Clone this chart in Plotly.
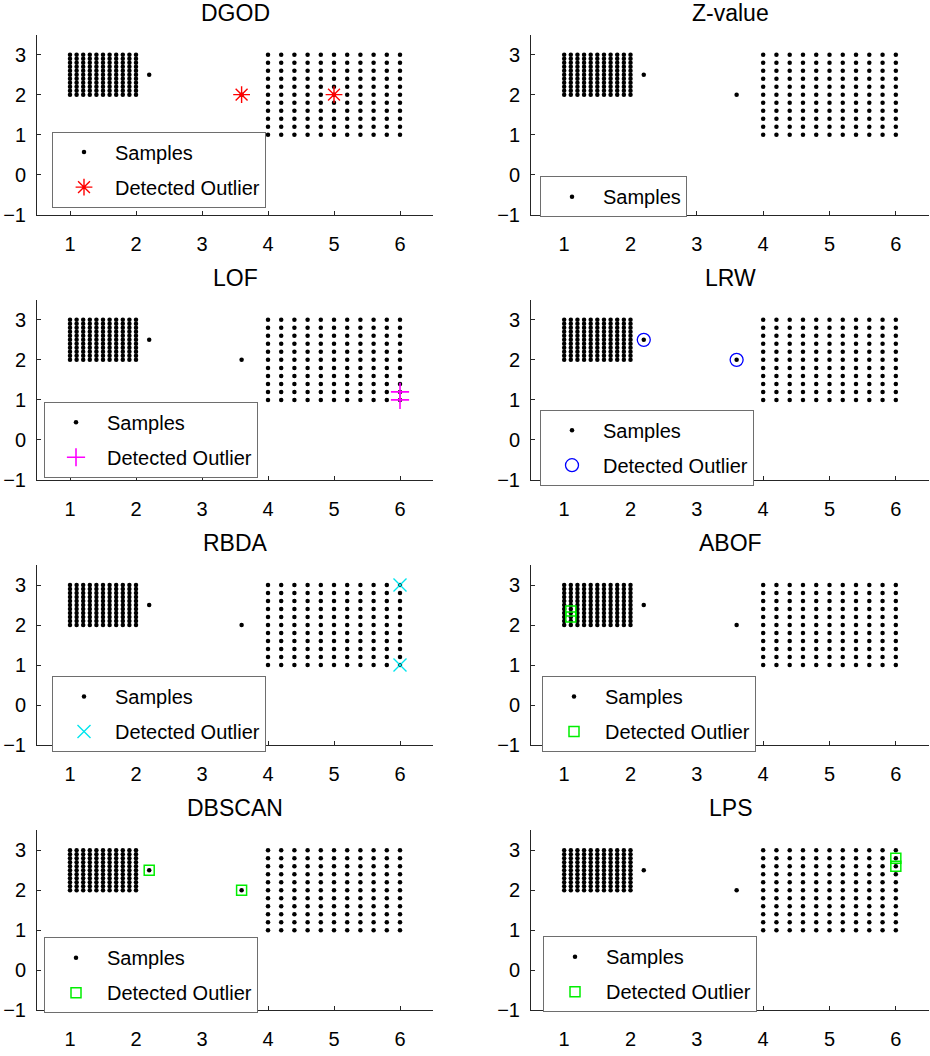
import plotly.graph_objects as go

# ---------------- data ----------------
left_cols = [1.0, 1.1, 1.2, 1.3, 1.4, 1.5, 1.6, 1.7, 1.8, 1.9, 2.0]
left_rows = [2.0, 2.1, 2.2, 2.3, 2.4, 2.5, 2.6, 2.7, 2.8, 2.9, 3.0]
right_cols = [4.0, 4.2, 4.4, 4.6, 4.8, 5.0, 5.2, 5.4, 5.6, 5.8, 6.0]
right_rows = [1.0, 1.2, 1.4, 1.6, 1.8, 2.0, 2.2, 2.4, 2.6, 2.8, 3.0]
extra_x = [2.2, 3.6]
extra_y = [2.5, 2.0]

methods = ["DGOD", "Z-value", "LOF", "LRW", "RBDA", "ABOF", "DBSCAN", "LPS"]
out_x = {
    "DGOD": [3.6, 5.0], "Z-value": [], "LOF": [6.0, 6.0], "LRW": [2.2, 3.6],
    "RBDA": [6.0, 6.0], "ABOF": [1.1, 1.1], "DBSCAN": [2.2, 3.6], "LPS": [6.0, 6.0],
}
out_y = {
    "DGOD": [2.0, 2.0], "Z-value": [], "LOF": [1.2, 1.0], "LRW": [2.5, 2.0],
    "RBDA": [3.0, 1.0], "ABOF": [2.35, 2.2], "DBSCAN": [2.5, 2.0], "LPS": [2.8, 2.6],
}
x_ticks = [1, 2, 3, 4, 5, 6]
y_ticks = [-1, 0, 1, 2, 3]

# ---------------- styles ----------------
styles = {
    "DGOD": dict(symbol="asterisk-open", color="#ff0000", size=14, w=1.4),
    "LOF": dict(symbol="cross-thin-open", color="#ff00ff", size=13, w=1.6),
    "LRW": dict(symbol="circle-open", color="#0000ff", size=13, w=1.3),
    "RBDA": dict(symbol="x-thin-open", color="#00e5ee", size=13, w=1.4),
    "ABOF": dict(symbol="square-open", color="#00ee00", size=10, w=1.5),
    "DBSCAN": dict(symbol="square-open", color="#00ee00", size=10, w=1.5),
    "LPS": dict(symbol="square-open", color="#00ee00", size=10, w=1.5),
}

sx, sy = [], []
for c in left_cols:
    for r in left_rows:
        sx.append(c); sy.append(r)
for c in right_cols:
    for r in right_rows:
        sx.append(c); sy.append(r)
sx += extra_x
sy += extra_y

W, H = 930, 1056
col_px = [(37, 433), (531, 929)]
row_top = [35, 303, 571, 839]
PLOT_H = 182
legend_pos = {  # left px, top px
    "DGOD": (52, 133), "Z-value": (540, 178), "LOF": (44, 406), "LRW": (540, 414),
    "RBDA": (52, 683), "ABOF": (542, 683), "DBSCAN": (44, 947), "LPS": (543, 946),
}

FONT = "Liberation Sans, Arial, sans-serif"
fig = go.Figure()
layout = dict(
    width=W, height=H, margin=dict(l=0, r=0, t=0, b=0),
    paper_bgcolor="white", plot_bgcolor="white",
    font=dict(family=FONT, size=20, color="black"),
    annotations=[],
)

for i, m in enumerate(methods):
    n = i + 1
    r, c = divmod(i, 2)
    x0, x1 = col_px[c]
    top = row_top[r]
    bot = top + PLOT_H
    xa = "xaxis" if n == 1 else f"xaxis{n}"
    ya = "yaxis" if n == 1 else f"yaxis{n}"
    xr = "x" if n == 1 else f"x{n}"
    yr = "y" if n == 1 else f"y{n}"
    lg = "legend" if n == 1 else f"legend{n}"
    axstyle = dict(showgrid=False, zeroline=False, showline=True, linecolor="#262626",
                   linewidth=1, ticks="inside", ticklen=4, tickcolor="#262626",
                   tickfont=dict(size=20, color="black", family=FONT), mirror=False)
    layout[xa] = dict(domain=[x0 / W, x1 / W], range=[0.5, 6.5], tickvals=x_ticks,
                      anchor=yr, ticklabelstandoff=11, **axstyle)
    layout[ya] = dict(domain=[1 - bot / H, 1 - top / H], range=[-1, 3.5], tickvals=y_ticks,
                      anchor=xr, ticklabelstandoff=6, **axstyle)
    lx, ly = legend_pos[m]
    layout[lg] = dict(x=lx / W, y=1 - ly / H, xanchor="left", yanchor="top",
                      bgcolor="white", bordercolor="#6e6e6e", borderwidth=1,
                      font=dict(size=20, family=FONT, color="black"),
                      itemwidth=52, tracegroupgap=6, traceorder="grouped")
    layout["annotations"].append(dict(
        text=m, xref=f"{xr} domain", yref=f"{yr} domain", x=0.5, y=1,
        xanchor="center", yanchor="middle", yshift=22, showarrow=False,
        font=dict(size=23, family=FONT, color="black")))

    fig.add_trace(go.Scatter(
        x=sx, y=sy, mode="markers", name="Samples", xaxis=xr, yaxis=yr,
        legend=lg, legendgroup=f"s{n}",
        marker=dict(color="black", size=4.5, line=dict(width=0)),
        hoverinfo="skip"))
    if out_x[m]:
        st = styles[m]
        fig.add_trace(go.Scatter(
            x=out_x[m], y=out_y[m], mode="markers", name="Detected Outlier",
            xaxis=xr, yaxis=yr, legend=lg, legendgroup=f"o{n}",
            marker=dict(symbol=st["symbol"], size=st["size"], color=st["color"],
                        line=dict(color=st["color"], width=st["w"])),
            hoverinfo="skip"))

fig.update_layout(**layout)
fig.write_html("out.html")
